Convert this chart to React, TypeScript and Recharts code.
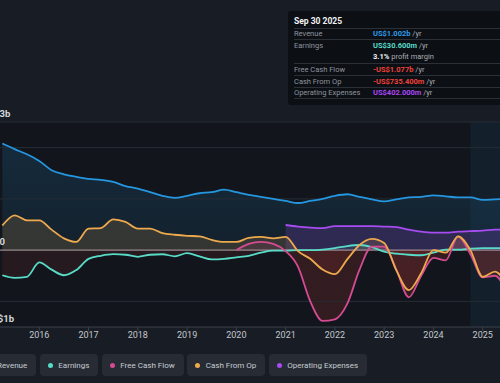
import React from "react";
import {
  ComposedChart, Area, Line, XAxis, YAxis, CartesianGrid, ReferenceLine, ReferenceArea,
} from "recharts";

// quarter ends as decimal years
const quarters = [
  2015.25, 2015.5, 2015.75,
  2016, 2016.25, 2016.5, 2016.75,
  2017, 2017.25, 2017.5, 2017.75,
  2018, 2018.25, 2018.5, 2018.75,
  2019, 2019.25, 2019.5, 2019.75,
  2020, 2020.25, 2020.5, 2020.75,
  2021, 2021.25, 2021.5, 2021.75,
  2022, 2022.25, 2022.5, 2022.75,
  2023, 2023.25, 2023.5, 2023.75,
  2024, 2024.25, 2024.5, 2024.75,
  2025, 2025.25, 2025.5,
];

// US$ billions
const revenue = [
  2.08, 1.97, 1.87,
  1.74, 1.56, 1.48, 1.43,
  1.39, 1.37, 1.33, 1.25,
  1.2, 1.13, 1.06, 1.02,
  1.06, 1.11, 1.13, 1.18,
  1.13, 1.08, 1.04, 1.0,
  0.96, 0.92, 0.96, 1.0,
  1.06, 1.09, 1.04, 0.99,
  0.95, 0.99, 1.03, 1.04,
  1.07, 1.05, 1.03, 1.03,
  0.98, 0.99, 1.0,
];

const earnings = [
  -0.49, -0.54, -0.52,
  -0.24, -0.38, -0.49, -0.39,
  -0.17, -0.11, -0.08, -0.09,
  -0.13, -0.09, -0.08, -0.12,
  -0.06, -0.12, -0.18, -0.17,
  -0.14, -0.11, -0.05, -0.01,
  -0.01, 0.0, 0.0, 0.01,
  0.04, 0.08, 0.1, 0.06,
  -0.03, -0.07, -0.09, -0.1,
  -0.05, 0.01, 0.01, 0.03,
  0.04, 0.04, 0.03,
];

const freeCashFlow = [
  null, null, null,
  null, null, null, null,
  null, null, null, null,
  null, null, null, null,
  null, null, null, null,
  0.0, 0.12, 0.16, 0.12,
  -0.02, -0.32, -1.0, -1.38,
  -1.35, -1.05, -0.38, 0.07,
  0.07, -0.39, -0.92, -0.5,
  -0.15, -0.2, 0.27, -0.08,
  -0.53, -0.5, -0.85,
];

const cashFromOp = [
  0.48, 0.68, 0.58,
  0.58, 0.4, 0.23, 0.16,
  0.42, 0.43, 0.6, 0.55,
  0.42, 0.42, 0.33, 0.3,
  0.28, 0.27, 0.2, 0.16,
  0.16, 0.24, 0.26, 0.23,
  0.26, -0.02, -0.17, -0.38,
  -0.47, -0.18, 0.1, 0.22,
  0.14, -0.4, -0.78, -0.45,
  0.0, -0.05, 0.27, 0.0,
  -0.52, -0.42, -0.7,
];

const opex = [
  null, null, null,
  null, null, null, null,
  null, null, null, null,
  null, null, null, null,
  null, null, null, null,
  null, null, null, null,
  0.49, 0.46, 0.44, 0.43,
  0.47, 0.47, 0.47, 0.47,
  0.46, 0.45, 0.4, 0.36,
  0.34, 0.34, 0.36, 0.37,
  0.38, 0.4, 0.4,
];

const yearTicks = [2016, 2017, 2018, 2019, 2020, 2021, 2022, 2023, 2024, 2025];
const yTickValues = [-1.5, 0, 2.5];
const yTickText = ["-US$1b", "US$0", "US$3b"];
const gridValues = [2.5, 2, 1, -1];

const data = quarters.map((t, i) => ({
  t,
  revenue: revenue[i],
  earnings: earnings[i],
  fcf: freeCashFlow[i],
  cfo: cashFromOp[i],
  opex: opex[i],
}));

const Y_MIN = -1.5;
const Y_MAX = 2.5;
const PLOT_TOP = 122;
const PLOT_BOTTOM = 327;
const zeroOffset = Y_MAX / (Y_MAX - Y_MIN);

const BLUE = "#2596e0";
const TEAL = "#58dcc8";
const PINK = "#d54b91";
const ORANGE = "#eda94d";
const PURPLE = "#a64cf0";
const RED = "#e8403a";

const legendItems = [
  { name: "Revenue", color: BLUE },
  { name: "Earnings", color: TEAL },
  { name: "Free Cash Flow", color: PINK },
  { name: "Cash From Op", color: ORANGE },
  { name: "Operating Expenses", color: PURPLE },
];

const Grad = ({ id, color, top, zero, neg }: any) => (
  <linearGradient id={id} x1="0" y1={PLOT_TOP} x2="0" y2={PLOT_BOTTOM} gradientUnits="userSpaceOnUse">
    <stop offset={0} stopColor={color} stopOpacity={top} />
    <stop offset={zeroOffset} stopColor={color} stopOpacity={zero} />
    <stop offset={zeroOffset} stopColor={RED} stopOpacity={neg} />
    <stop offset={1} stopColor={RED} stopOpacity={neg} />
  </linearGradient>
);

const renderYLabel = (props: any) => {
  const { y, payload, index } = props;
  const idx = yTickValues.indexOf(payload.value);
  return (
    <text key={index} x={22} y={y - 5} fill="#d3d6db" fontSize={9.5} fontWeight={700} fontFamily="Roboto" textAnchor="start">
      {yTickText[idx]}
    </text>
  );
};

const rowLabel: React.CSSProperties = { width: 79, color: "#8f959e" };
const unit: React.CSSProperties = { color: "#a9aeb5", fontWeight: 400 };
const sep = "1px solid #2a2f38";

export default function App() {
  return (
    <div style={{ position: "absolute", left: 0, top: 0, width: 500, height: 383, overflow: "hidden", background: "#181d25", fontFamily: "Roboto, sans-serif" }}>
      <div style={{ position: "absolute", left: -40, top: 0 }}>
        <ComposedChart width={572} height={383} data={data} margin={{ top: 122, right: 0, bottom: 26, left: 0 }}>
          <defs>
            <Grad id="gRev" color={BLUE} top={0.3} zero={0.14} neg={0} />
            <Grad id="gEarn" color={TEAL} top={0.15} zero={0.15} neg={0.15} />
            <Grad id="gFcf" color={PINK} top={0.2} zero={0.2} neg={0.25} />
            <Grad id="gCfo" color={ORANGE} top={0.25} zero={0.25} neg={0.18} />
            <Grad id="gOpex" color={PURPLE} top={0.3} zero={0.3} neg={0} />
          </defs>
          <CartesianGrid horizontal={false} vertical={false} fill="#12161c" />
          <XAxis
            dataKey="t" type="number" domain={[2015, 2026]} ticks={yearTicks} allowDataOverflow
            tickFormatter={(v) => String(v)} tickSize={4} tickMargin={1}
            axisLine={{ stroke: "#3a404a" }} tickLine={{ stroke: "#3a404a" }}
            tick={{ fill: "#c4c8ce", fontSize: 9, fontFamily: "Roboto" }} height={30}
          />
          <YAxis
            domain={[Y_MIN, Y_MAX]} ticks={yTickValues} width={30} interval={0}
            axisLine={false} tickLine={false} tick={renderYLabel} allowDataOverflow
          />
          <ReferenceArea x1={2024.75} x2={2026} y1={Y_MIN} y2={Y_MAX} fill="#1e5a80" fillOpacity={0.14} stroke="none" />
          {gridValues.map((v) => (
            <ReferenceLine key={v} y={v} stroke="#262c35" strokeWidth={1} />
          ))}
          <Area dataKey="revenue" type="monotone" baseValue={0} stroke="none" fill="url(#gRev)" isAnimationActive={false} />
          <Area dataKey="opex" type="monotone" baseValue={0} stroke="none" fill="url(#gOpex)" isAnimationActive={false} />
          <Area dataKey="cfo" type="monotone" baseValue={0} stroke="none" fill="url(#gCfo)" isAnimationActive={false} />
          <Area dataKey="earnings" type="monotone" baseValue={0} stroke="none" fill="url(#gEarn)" isAnimationActive={false} />
          <Area dataKey="fcf" type="monotone" baseValue={0} stroke="none" fill="url(#gFcf)" isAnimationActive={false} />
          <ReferenceLine y={0} stroke="#b3a1a9" strokeOpacity={0.8} strokeWidth={1.2} />
          <Line dataKey="revenue" type="monotone" stroke={BLUE} strokeWidth={1.8} dot={false} isAnimationActive={false} />
          <Line dataKey="opex" type="monotone" stroke={PURPLE} strokeWidth={1.8} dot={false} isAnimationActive={false} />
          <Line dataKey="earnings" type="monotone" stroke={TEAL} strokeWidth={1.8} dot={false} isAnimationActive={false} />
          <Line dataKey="fcf" type="monotone" stroke={PINK} strokeWidth={1.8} dot={false} isAnimationActive={false} />
          <Line dataKey="cfo" type="monotone" stroke={ORANGE} strokeWidth={1.8} dot={false} isAnimationActive={false} />
        </ComposedChart>
      </div>

      {/* info box */}
      <div style={{ position: "absolute", left: 288, top: 11, width: 230, height: 94, background: "#0c0f14", borderRadius: 3, paddingLeft: 6, fontSize: 7.5, boxSizing: "border-box" }}>
        <div style={{ marginTop: 4, height: 13, lineHeight: "13px", color: "#f2f3f5", fontWeight: 700, fontSize: 8.5, borderBottom: sep }}>Sep 30 2025</div>
        <div style={{ display: "flex", height: 10, lineHeight: "10px", borderBottom: sep }}>
          <span style={rowLabel}>Revenue</span>
          <span style={{ color: "#2f9be8", fontWeight: 700 }}>US$1.002b <span style={unit}>/yr</span></span>
        </div>
        <div style={{ height: 23, borderBottom: sep }}>
          <div style={{ display: "flex", height: 11, lineHeight: "11px" }}>
            <span style={rowLabel}>Earnings</span>
            <span style={{ color: TEAL, fontWeight: 700 }}>US$30.600m <span style={unit}>/yr</span></span>
          </div>
          <div style={{ display: "flex", height: 12, lineHeight: "12px" }}>
            <span style={rowLabel}></span>
            <span style={{ color: "#f2f3f5", fontWeight: 700 }}>3.1% <span style={unit}>profit margin</span></span>
          </div>
        </div>
        <div style={{ display: "flex", height: 11, lineHeight: "11px", borderBottom: sep }}>
          <span style={rowLabel}>Free Cash Flow</span>
          <span style={{ color: "#f0413a", fontWeight: 700 }}>-US$1.077b <span style={unit}>/yr</span></span>
        </div>
        <div style={{ display: "flex", height: 11, lineHeight: "11px", borderBottom: sep }}>
          <span style={rowLabel}>Cash From Op</span>
          <span style={{ color: "#f0413a", fontWeight: 700 }}>-US$735.400m <span style={unit}>/yr</span></span>
        </div>
        <div style={{ display: "flex", height: 10, lineHeight: "10px", borderBottom: sep }}>
          <span style={rowLabel}>Operating Expenses</span>
          <span style={{ color: "#a946f5", fontWeight: 700 }}>US$402.000m <span style={unit}>/yr</span></span>
        </div>
      </div>

      {/* legend */}
      <div style={{ position: "absolute", left: -21.5, top: 354, display: "flex", gap: 3.5 }}>
        {legendItems.map((it) => (
          <div key={it.name} style={{ display: "flex", alignItems: "center", height: 22, padding: "0 9px 0 8px", background: "#262b34", borderRadius: 4, fontSize: 8, color: "#c7cbd1", whiteSpace: "nowrap" }}>
            <span style={{ width: 5, height: 5, borderRadius: "50%", background: it.color, marginRight: 5.5 }} />
            {it.name}
          </div>
        ))}
      </div>
    </div>
  );
}
